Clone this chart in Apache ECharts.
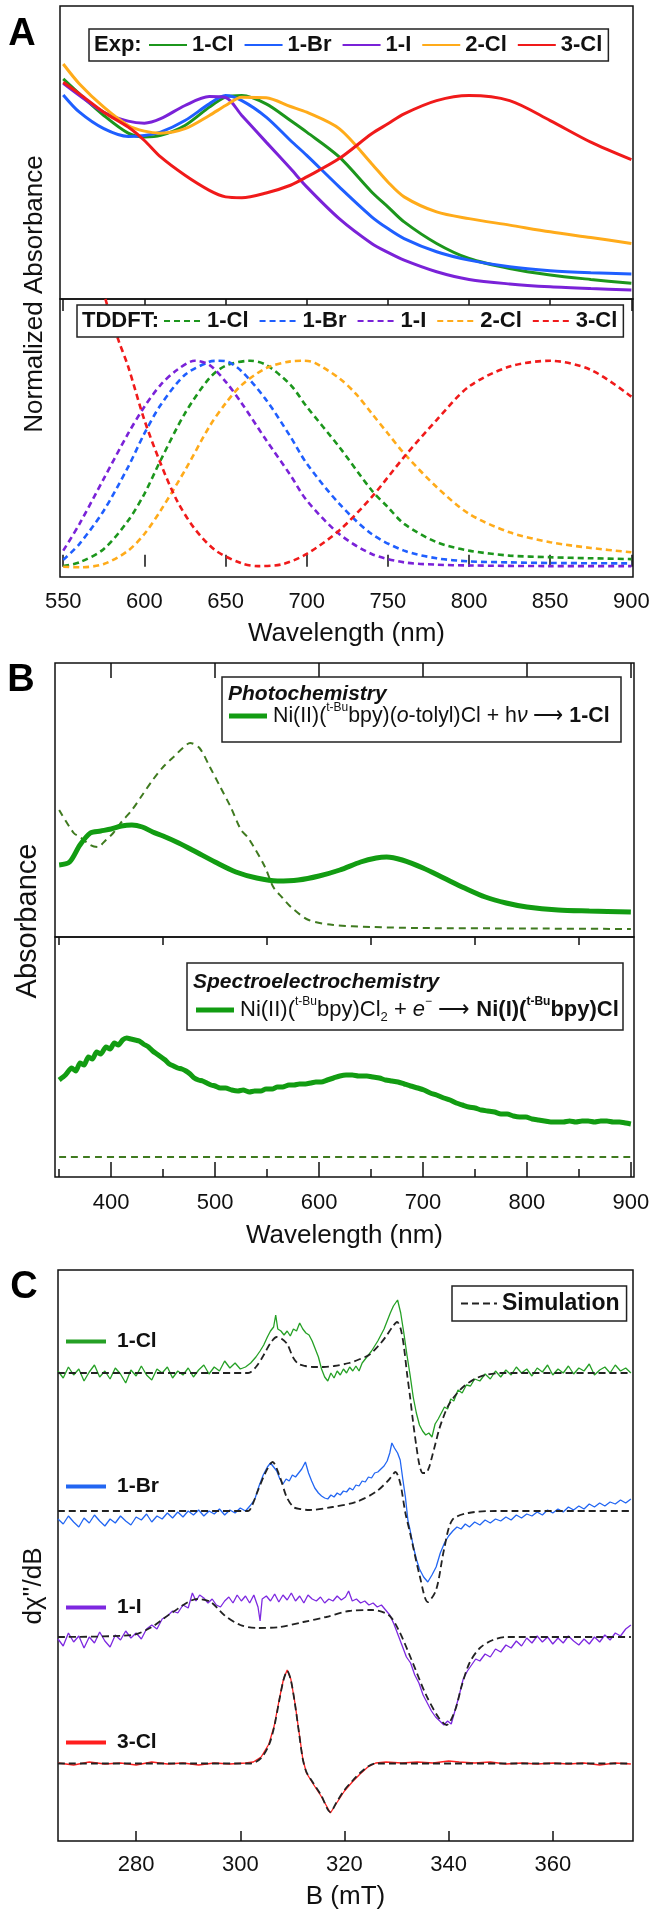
<!DOCTYPE html>
<html><head><meta charset="utf-8">
<script src="https://cdn.jsdelivr.net/npm/echarts@6/dist/echarts.min.js"></script>
<style>html,body{margin:0;padding:0;background:#fff}#c{width:658px;height:1920px}</style>
</head><body><div id="c"></div>
<script>
// ---------- Panel A : normalized absorbance ----------
const wlExp = [550,560,575,590,600,610,625,640,650,660,675,690,700,720,740,750,760,780,800,825,850,875,900];
const exp1Cl = [1.082,1.008,0.902,0.815,0.796,0.804,0.853,0.943,0.992,1.0,0.959,0.877,0.820,0.698,0.526,0.453,0.379,0.273,0.199,0.150,0.118,0.096,0.077];
const exp1Br = [1.003,0.918,0.837,0.799,0.804,0.820,0.877,0.959,1.0,0.975,0.894,0.779,0.706,0.551,0.404,0.346,0.297,0.232,0.191,0.158,0.139,0.129,0.123];
const exp1I  = [1.060,1.0,0.918,0.874,0.864,0.886,0.951,0.995,0.99,0.902,0.771,0.641,0.551,0.395,0.273,0.229,0.191,0.134,0.096,0.074,0.060,0.051,0.044];
const exp2Cl = [1.155,1.057,0.943,0.853,0.825,0.815,0.837,0.902,0.951,0.992,0.989,0.946,0.918,0.837,0.665,0.575,0.502,0.428,0.395,0.363,0.330,0.302,0.273];
const exp3Cl = [1.065,1.008,0.918,0.845,0.779,0.698,0.608,0.534,0.502,0.498,0.521,0.559,0.600,0.690,0.812,0.861,0.910,0.975,1.0,0.975,0.877,0.771,0.685];

const td1I_x  = [550,560,575,590,600,610,620,631,640,650,660,675,690,700,720,740,760,780,800,850,900];
const td1I_y  = [0.078,0.208,0.428,0.647,0.777,0.883,0.955,1.0,0.98,0.899,0.793,0.615,0.444,0.322,0.159,0.062,0.021,0.010,0.006,0.003,0.003];
const td1Br_x = [550,560,575,590,600,610,625,640,645,650,660,675,690,700,720,740,760,780,800,825,850,900];
const td1Br_y = [0.033,0.111,0.273,0.485,0.647,0.785,0.932,0.995,1.0,0.998,0.948,0.810,0.631,0.501,0.306,0.159,0.078,0.041,0.026,0.021,0.018,0.016];
const td1Cl_x = [550,560,575,590,600,610,625,640,650,665,675,690,700,720,740,750,760,780,800,825,850,875,900];
const td1Cl_y = [0.003,0.021,0.086,0.224,0.354,0.517,0.745,0.915,0.976,1.0,0.98,0.883,0.777,0.582,0.371,0.289,0.208,0.119,0.078,0.054,0.046,0.041,0.037];
const td2Cl_x = [550,560,575,590,600,610,625,640,650,660,675,690,698,705,720,730,740,750,760,780,800,825,850,875,900];
const td2Cl_y = [0,-0.003,0.013,0.078,0.159,0.273,0.468,0.680,0.793,0.883,0.964,0.997,1.0,0.99,0.915,0.842,0.745,0.647,0.550,0.387,0.257,0.167,0.119,0.091,0.070];
const td3Cl_x = [550,565,576,584,590,600,610,620,631,644,660,670,685,700,720,740,760,780,800,825,850,875,900];
const td3Cl_y = [2.1,1.65,1.30,1.10,0.972,0.712,0.501,0.322,0.184,0.078,0.016,0.003,0.012,0.062,0.176,0.338,0.533,0.712,0.875,0.972,1.0,0.956,0.826];

const ticksA = [550,600,650,700,750,800,850,900];

// ---------- Panel B : absorbance (arb.) ----------
const photo_x = [350,360,370,380,390,400,410,420,430,440,450,465,480,500,520,540,560,580,600,620,640,655,665,680,700,720,740,760,780,800,830,860,900];
const photo_y = [0.72,0.75,0.92,1.04,1.06,1.08,1.11,1.12,1.10,1.05,1.01,0.94,0.86,0.75,0.65,0.59,0.56,0.57,0.61,0.67,0.75,0.79,0.80,0.77,0.69,0.59,0.49,0.40,0.34,0.30,0.27,0.26,0.25];
const photoPre_x = [350,364,370,380,387,395,402,410,420,430,440,450,460,470,476,485,495,505,515,525,532,548,556,565,573,590,614,650,696,800,900];
const photoPre_y = [1.27,1.04,1.00,0.92,0.90,0.97,1.04,1.15,1.27,1.42,1.57,1.70,1.80,1.90,1.94,1.89,1.70,1.50,1.30,1.07,0.99,0.70,0.50,0.39,0.30,0.17,0.12,0.10,0.09,0.085,0.08];
const spec_x = [350,356,362,366,370,374,378,382,386,390,395,399,403,407,411,415,419,423,427,431,436,440,444,448,452,456,460,464,468,472,476,480,484,488,492,496,500,505,510,516,522,527,533,538,544,549,555,560,565,571,576,581,587,592,597,602,608,614,620,626,632,638,646,652,658,664,670,676,682,688,695,701,707,713,720,726,732,738,744,750,756,762,769,775,781,787,793,799,805,811,817,823,829,835,841,847,853,859,865,871,877,883,889,895,900];
const spec_y = [0.97,1.02,1.09,1.06,1.14,1.12,1.20,1.18,1.25,1.23,1.30,1.28,1.34,1.32,1.37,1.39,1.38,1.37,1.36,1.33,1.30,1.26,1.23,1.20,1.17,1.13,1.11,1.09,1.08,1.06,1.03,0.99,0.97,0.96,0.94,0.92,0.91,0.89,0.89,0.87,0.86,0.87,0.85,0.86,0.86,0.88,0.88,0.90,0.90,0.92,0.92,0.93,0.93,0.94,0.95,0.95,0.97,0.99,1.01,1.02,1.02,1.01,1.01,1.00,0.99,0.97,0.96,0.95,0.93,0.91,0.89,0.87,0.84,0.82,0.79,0.77,0.74,0.72,0.70,0.69,0.67,0.66,0.65,0.63,0.63,0.61,0.60,0.60,0.58,0.57,0.56,0.55,0.55,0.55,0.56,0.55,0.56,0.56,0.55,0.56,0.56,0.55,0.55,0.54,0.53];
const specPre_x = [350,900];
const specPre_y = [0.20,0.20];
const ticksBmajor = [400,500,600,700,800,900];
const ticksBminor = [350,450,550,650,750,850];

// ---------- Panel C : EPR (arb.) ----------
const epr1Cl = [[265,4.70],[266,4.63],[267,4.74],[268,4.66],[269,4.72],[270,4.60],[271,4.69],[272,4.76],[273,4.64],[274,4.70],[275,4.62],[276,4.73],[277,4.67],[278,4.58],[279,4.71],[280,4.65],[281,4.75],[282,4.66],[283,4.61],[284,4.72],[285,4.68],[286,4.74],[287,4.63],[288,4.70],[289,4.66],[290,4.73],[291,4.64],[292,4.71],[293,4.76],[294,4.67],[295,4.74],[296,4.70],[297,4.80],[298,4.73],[299,4.78],[300,4.72],[301,4.74],[302,4.78],[303,4.84],[303.8,4.90],[304.5,4.96],[305.2,5.04],[305.8,5.10],[306.4,5.14],[306.8,5.26],[307.2,5.12],[307.8,5.10],[308.4,5.06],[309,5.10],[309.6,5.05],[310.2,5.12],[310.8,5.10],[311.4,5.18],[312,5.12],[312.6,5.08],[313.2,5.06],[313.8,5.00],[314.4,4.92],[315,4.84],[315.6,4.72],[316.2,4.64],[316.8,4.60],[317.4,4.68],[318,4.63],[318.6,4.70],[319.2,4.66],[319.8,4.72],[320.4,4.68],[321,4.74],[321.6,4.70],[322.2,4.75],[322.8,4.70],[323.4,4.78],[324,4.82],[324.6,4.86],[325.2,4.90],[325.8,4.95],[326.4,5.00],[327,5.06],[327.6,5.12],[328.2,5.20],[328.8,5.28],[329.4,5.35],[330.2,5.41],[330.8,5.28],[331.4,5.08],[332,4.86],[332.6,4.66],[333.2,4.44],[333.8,4.28],[334.4,4.16],[335,4.10],[335.6,4.06],[336.2,4.08],[336.8,4.04],[337.4,4.17],[338,4.22],[338.6,4.28],[339.2,4.34],[339.8,4.32],[340.4,4.42],[341,4.40],[341.8,4.51],[342.6,4.48],[343.4,4.56],[344.2,4.55],[345,4.62],[346,4.60],[347,4.67],[348,4.62],[349,4.70],[350,4.64],[351,4.71],[352,4.66],[353,4.74],[354,4.68],[355,4.72],[356,4.65],[357,4.73],[358,4.69],[359,4.76],[360,4.66],[361,4.72],[362,4.68],[363,4.75],[364,4.67],[365,4.73],[366,4.70],[367,4.77],[368,4.66],[369,4.71],[370,4.74],[371,4.68],[372,4.76],[373,4.70],[374,4.73],[375,4.68]];
const sim1Cl = [[265,4.68],[301.5,4.68],[303,4.74],[304.5,4.86],[305.8,4.98],[307,5.04],[308,5.02],[309,4.97],[310.2,4.83],[311.2,4.77],[312.5,4.75],[314,4.74],[316,4.74],[318,4.75],[320.9,4.78],[323,4.82],[324.7,4.86],[326.5,4.95],[327.9,5.04],[329.2,5.14],[330.1,5.19],[330.8,5.12],[331.4,4.95],[332,4.68],[332.6,4.44],[333.2,4.18],[333.8,3.95],[334.4,3.76],[335,3.68],[335.6,3.68],[336.2,3.73],[336.8,3.84],[337.5,3.98],[338.2,4.12],[339,4.24],[340,4.36],[341.5,4.47],[343,4.55],[345,4.62],[347,4.66],[350,4.68],[375,4.68]];
const epr1Br = [[265,3.22],[266,3.17],[267,3.25],[268,3.19],[269,3.14],[270,3.23],[271,3.18],[272,3.26],[273,3.20],[274,3.15],[275,3.22],[276,3.18],[277,3.25],[278,3.20],[279,3.16],[280,3.24],[281,3.21],[282,3.27],[283,3.19],[284,3.25],[285,3.22],[286,3.28],[287,3.23],[288,3.29],[289,3.24],[290,3.30],[291,3.26],[292,3.31],[293,3.25],[294,3.30],[295,3.27],[296,3.32],[297,3.26],[298,3.31],[299,3.28],[300,3.33],[301,3.30],[302,3.36],[302.8,3.42],[303.6,3.55],[304.4,3.66],[305.2,3.74],[305.8,3.78],[306.4,3.74],[307,3.70],[307.6,3.62],[308.2,3.57],[308.8,3.62],[309.4,3.60],[310,3.66],[310.6,3.64],[311.2,3.68],[311.8,3.72],[312.5,3.79],[313.1,3.68],[313.7,3.60],[314.3,3.53],[315,3.48],[315.6,3.45],[316.2,3.43],[316.8,3.42],[317.4,3.46],[318,3.44],[318.6,3.48],[319.2,3.46],[319.8,3.50],[320.4,3.49],[321,3.53],[321.6,3.51],[322.2,3.56],[322.8,3.55],[323.4,3.60],[324,3.59],[324.6,3.64],[325.2,3.63],[325.8,3.68],[326.4,3.69],[327,3.72],[327.6,3.75],[328.2,3.80],[328.7,3.88],[329.1,3.98],[329.6,3.93],[330.2,3.88],[330.7,3.81],[331.2,3.62],[331.7,3.44],[332.2,3.20],[332.6,3.11],[333.2,2.95],[333.8,2.82],[334.4,2.72],[335.2,2.64],[336,2.59],[336.8,2.66],[337.6,2.74],[338.4,2.88],[339.2,2.98],[340,3.05],[340.8,3.10],[341.6,3.14],[342.4,3.12],[343.2,3.17],[344,3.14],[345,3.19],[346,3.16],[347,3.21],[348,3.18],[349,3.22],[350,3.20],[351,3.24],[352,3.21],[353,3.26],[354,3.23],[355,3.27],[356,3.25],[357,3.29],[358,3.26],[359,3.31],[360,3.28],[361,3.32],[362,3.29],[363,3.34],[364,3.31],[365,3.35],[366,3.32],[367,3.37],[368,3.34],[369,3.38],[370,3.35],[371,3.39],[372,3.37],[373,3.41],[374,3.38],[375,3.42]];
const sim1Br = [[265,3.30],[301.5,3.30],[302.3,3.36],[303.2,3.48],[304.8,3.68],[306.2,3.79],[307.6,3.64],[308.9,3.44],[310.2,3.34],[311.5,3.32],[313.3,3.31],[317.7,3.34],[322.2,3.39],[326,3.49],[328.5,3.61],[329.8,3.69],[330.7,3.58],[331.7,3.28],[332.6,3.08],[334.5,2.64],[336,2.39],[337.6,2.51],[339.1,2.91],[340.7,3.21],[343.8,3.28],[349,3.30],[375,3.30]];
const epr1I = [[265,2.02],[266,1.95],[267,2.08],[268,1.99],[269,2.05],[270,1.93],[271,2.04],[272,1.98],[273,2.09],[274,2.00],[275,1.94],[276,2.06],[277,2.01],[278,2.10],[279,2.03],[280,2.08],[281,2.02],[282,2.12],[283,2.16],[284,2.12],[285,2.22],[286,2.25],[287,2.30],[288,2.28],[289,2.36],[290,2.33],[290.8,2.48],[291.5,2.40],[292.2,2.46],[293,2.43],[293.8,2.38],[294.6,2.42],[295.4,2.36],[296.2,2.34],[297,2.40],[297.8,2.44],[298.6,2.38],[299.4,2.46],[300.2,2.40],[301,2.45],[301.8,2.38],[302.6,2.46],[303.4,2.34],[303.8,2.20],[304.2,2.42],[305,2.45],[305.8,2.40],[306.6,2.47],[307.4,2.39],[308.2,2.46],[309,2.41],[309.8,2.48],[310.6,2.40],[311.4,2.45],[312.2,2.38],[313,2.46],[313.8,2.42],[314.6,2.40],[315.4,2.44],[316.2,2.38],[317,2.42],[317.8,2.40],[318.6,2.45],[319.4,2.41],[320.2,2.44],[320.8,2.50],[321.5,2.40],[322.3,2.42],[323.1,2.38],[323.9,2.40],[324.7,2.36],[325.5,2.38],[326.3,2.34],[327.1,2.36],[327.9,2.31],[328.7,2.26],[329.5,2.17],[330.3,2.06],[331.1,1.95],[331.9,1.84],[332.7,1.78],[333.5,1.66],[334.3,1.58],[335.1,1.46],[335.9,1.38],[336.7,1.30],[337.5,1.24],[338.3,1.20],[339.1,1.16],[339.8,1.20],[340.5,1.17],[341.2,1.30],[342,1.45],[342.8,1.62],[343.6,1.70],[344.4,1.76],[345.2,1.82],[346,1.80],[347,1.87],[348,1.84],[349,1.92],[350,1.89],[351,1.96],[352,1.93],[353,2.00],[354,1.95],[355,2.03],[356,1.98],[357,2.05],[358,1.99],[359,2.04],[360,1.97],[361,2.03],[362,1.98],[363,2.05],[364,2.00],[365,1.96],[366,2.02],[367,1.97],[368,2.04],[369,1.99],[370,2.06],[371,2.01],[372,2.08],[373,2.05],[374,2.12],[375,2.16]];
const sim1I = [[265,2.04],[279.2,2.06],[283,2.14],[286.8,2.28],[291.8,2.42],[294.3,2.39],[296.9,2.26],[300,2.16],[303.2,2.13],[307.6,2.14],[312.1,2.19],[316.5,2.24],[320.9,2.30],[325.3,2.31],[328.5,2.26],[330.4,2.11],[332.9,1.81],[335.5,1.48],[338,1.24],[339.6,1.16],[341.2,1.30],[342.5,1.55],[344,1.78],[346,1.93],[348.5,2.01],[351,2.04],[375,2.04]];
const epr3Cl = [[265,0.78],[268,0.76],[271,0.79],[274,0.77],[277,0.78],[280,0.76],[283,0.79],[286,0.77],[289,0.78],[292,0.76],[295,0.78],[298,0.77],[301,0.78],[302.5,0.79],[304,0.84],[305.5,0.97],[306.5,1.15],[307.5,1.42],[308.3,1.62],[309,1.71],[309.7,1.62],[310.5,1.38],[311.3,1.08],[312,0.82],[312.7,0.68],[314,0.57],[315.5,0.45],[317.3,0.28],[318.5,0.38],[320,0.50],[321.5,0.59],[323,0.67],[324.5,0.74],[326,0.78],[328,0.79],[331,0.78],[334,0.79],[337,0.78],[340,0.80],[342,0.79],[345,0.78],[348,0.79],[351,0.77],[354,0.78],[357,0.77],[360,0.78],[363,0.77],[366,0.78],[369,0.76],[372,0.78],[375,0.77]];
const sim3Cl = [[265,0.775],[302,0.775],[304,0.83],[305.5,0.96],[306.5,1.14],[307.5,1.41],[308.3,1.61],[309,1.70],[309.7,1.61],[310.5,1.37],[311.3,1.07],[312,0.82],[312.7,0.69],[314,0.58],[315.5,0.46],[317.3,0.29],[318.5,0.39],[320,0.51],[321.5,0.60],[323,0.68],[324.5,0.745],[326,0.775],[375,0.775]];
const starPts = [[311.0,5.36],[312.0,3.96],[305.2,2.59]];
const ticksC = [280,300,320,340,360];

// ---------- build ----------
const F = "'Liberation Sans', Arial, sans-serif";
const INK = '#111';
const col = {g:'#1c961c', b:'#1f5fff', p:'#7a22d8', o:'#ffab1a', r:'#f01a1a'};
const pairs = (xs, ys) => xs.map((x, i) => [x, ys[i]]);

function line(name, data, xi, yi, color, width, dash, smooth) {
  return {type:'line', name, data, xAxisIndex:xi, yAxisIndex:yi, symbol:'none', clip:true,
    smooth: smooth === undefined ? 0.3 : smooth, silent:true,
    lineStyle:{color, width, type: dash || 'solid'}, itemStyle:{color}};
}

const series = [
  line('1-Cl', pairs(wlExp, exp1Cl), 0, 0, col.g, 3),
  line('1-Br', pairs(wlExp, exp1Br), 0, 0, col.b, 3),
  line('1-I',  pairs(wlExp, exp1I),  0, 0, col.p, 3),
  line('2-Cl', pairs(wlExp, exp2Cl), 0, 0, col.o, 3),
  line('3-Cl', pairs(wlExp, exp3Cl), 0, 0, col.r, 3),
  line('TD 1-Cl', pairs(td1Cl_x, td1Cl_y), 1, 1, col.g, 2.6, [6,4]),
  line('TD 1-Br', pairs(td1Br_x, td1Br_y), 1, 1, col.b, 2.6, [6,4]),
  line('TD 1-I',  pairs(td1I_x,  td1I_y),  1, 1, col.p, 2.6, [6,4]),
  line('TD 2-Cl', pairs(td2Cl_x, td2Cl_y), 1, 1, col.o, 2.6, [6,4]),
  line('TD 3-Cl', pairs(td3Cl_x, td3Cl_y), 1, 1, col.r, 2.6, [6,4]),
  line('precursor', pairs(photoPre_x, photoPre_y), 2, 2, '#3f7a1f', 2, [7,5]),
  line('Photochemistry', pairs(photo_x, photo_y), 2, 2, '#129c12', 5),
  line('precursor2', pairs(specPre_x, specPre_y), 4, 3, '#3f7a1f', 2, [7,5]),
  line('Spectroelectrochemistry', pairs(spec_x, spec_y), 4, 3, '#129c12', 5, null, 0.2),
  line('EPR 1-Cl', epr1Cl, 6, 4, '#25a025', 1.3, null, false),
  line('EPR 1-Br', epr1Br, 6, 4, '#2266f2', 1.3, null, false),
  line('EPR 1-I',  epr1I,  6, 4, '#7d28e0', 1.3, null, false),
  line('EPR 3-Cl', epr3Cl, 6, 4, '#ff1e1e', 1.3, null, false),
  line('Simulation', sim1Cl, 6, 4, '#222', 1.8, [7,4], 0.3),
  line('Simulation', sim1Br, 6, 4, '#222', 1.8, [7,4], 0.3),
  line('Simulation', sim1I,  6, 4, '#222', 1.8, [7,4], 0.3),
  line('Simulation', sim3Cl, 6, 4, '#222', 1.8, [7,4], 0.3),
  {type:'scatter', name:'star', xAxisIndex:6, yAxisIndex:4, data:starPts, symbolSize:1,
   itemStyle:{opacity:0}, silent:true,
   label:{show:true, position:'inside', formatter:'*', fontSize:28, fontWeight:'bold', fontFamily:F, color:INK, offset:[0,6]}}
];

const tickStyle = {color:INK, width:1.5};
const frame = {show:true, borderColor:INK, borderWidth:1.5, backgroundColor:'transparent'};
const grid = [
  Object.assign({left:60, right:25, top:6,    height:293}, frame),
  Object.assign({left:60, right:25, top:299,  height:278}, frame),
  Object.assign({left:55, right:24, top:663,  height:274}, frame),
  Object.assign({left:55, right:24, top:937,  height:240}, frame),
  Object.assign({left:58, right:25, top:1270, height:571}, frame)
];
const lbl = {color:INK, fontSize:22, fontFamily:F};
const nameStyle = {color:INK, fontSize:26, fontFamily:F};
const noSplit = {show:false};
const xAxis = [
  {type:'value', gridIndex:0, position:'top', min:548, max:901, axisLine:{show:false},
   axisTick:{inside:true, length:12, lineStyle:tickStyle, customValues:ticksA}, axisLabel:{show:false}, splitLine:noSplit},
  {type:'value', gridIndex:1, position:'bottom', min:548, max:901, axisLine:{show:false},
   axisTick:{inside:true, length:12, lineStyle:tickStyle, customValues:ticksA},
   axisLabel:Object.assign({margin:14, customValues:ticksA}, lbl), splitLine:noSplit,
   name:'Wavelength (nm)', nameLocation:'middle', nameGap:44, nameTextStyle:nameStyle},
  {type:'value', gridIndex:2, position:'top', min:346, max:903, axisLine:{show:false},
   axisTick:{inside:true, length:8, lineStyle:tickStyle, customValues:ticksBminor}, axisLabel:{show:false}, splitLine:noSplit},
  {type:'value', gridIndex:2, position:'top', min:346, max:903, axisLine:{show:false},
   axisTick:{inside:true, length:15, lineStyle:tickStyle, customValues:ticksBmajor},
   axisLabel:{show:false}, splitLine:noSplit},
  {type:'value', gridIndex:3, position:'bottom', min:346, max:903, axisLine:{show:false},
   axisTick:{inside:true, length:8, lineStyle:tickStyle, customValues:ticksBminor},
   axisLabel:Object.assign({margin:15, customValues:ticksBmajor}, lbl), splitLine:noSplit,
   name:'Wavelength (nm)', nameLocation:'middle', nameGap:46, nameTextStyle:nameStyle},
  {type:'value', gridIndex:3, position:'bottom', min:346, max:903, axisLine:{show:false},
   axisTick:{inside:true, length:15, lineStyle:tickStyle, customValues:ticksBmajor},
   axisLabel:{show:false}, splitLine:noSplit},
  {type:'value', gridIndex:4, position:'bottom', min:265, max:375.4, axisLine:{show:false},
   axisTick:{inside:true, length:10, lineStyle:tickStyle, customValues:ticksC},
   axisLabel:Object.assign({margin:13, customValues:ticksC}, lbl), splitLine:noSplit,
   name:'B (mT)', nameLocation:'middle', nameGap:43, nameTextStyle:nameStyle}
];
const yHidden = (gi, min, max) => ({type:'value', gridIndex:gi, min, max, show:false, splitLine:noSplit});
const yAxis = [yHidden(0,0,1.44), yHidden(1,-0.05,1.30), yHidden(2,0,2.74), yHidden(3,0,2.40), yHidden(4,0,5.71)];

const legFmt = n => n.replace(/^(TD|EPR) /, '');
const legText = {color:INK, fontSize:22, fontWeight:'bold', fontFamily:F};
const hideSym = {color:'rgba(0,0,0,0)', borderWidth:0, opacity:0};
const legend = [
  {left:89, top:29, orient:'horizontal', padding:[5,6,5,59], itemWidth:38, itemHeight:14, itemGap:10,
   borderColor:'#222', borderWidth:1.5, backgroundColor:'#fff', selectedMode:false, formatter:legFmt,
   itemStyle:hideSym, textStyle:legText, data:['1-Cl','1-Br','1-I','2-Cl','3-Cl']},
  {left:77, top:305, orient:'horizontal', padding:[5,6,5,86], itemWidth:38, itemHeight:14, itemGap:10,
   borderColor:'#222', borderWidth:1.5, backgroundColor:'#fff', selectedMode:false, formatter:legFmt,
   itemStyle:hideSym, textStyle:legText, data:['TD 1-Cl','TD 1-Br','TD 1-I','TD 2-Cl','TD 3-Cl']},
  {left:452, top:1286, padding:[6,7,6,8], itemWidth:36, itemHeight:14, borderColor:'#222', borderWidth:1.5,
   backgroundColor:'#fff', selectedMode:false, itemStyle:hideSym, textStyle:Object.assign({}, legText, {fontSize:23}),
   lineStyle:{width:2}, data:['Simulation']}
];
[['EPR 1-Cl',1342],['EPR 1-Br',1487],['EPR 1-I',1608],['EPR 3-Cl',1743]].forEach(([n, yc]) => {
  legend.push({left:64, top:yc-11, padding:0, itemWidth:40, itemHeight:14, selectedMode:false,
    formatter:legFmt, lineStyle:{width:4}, itemStyle:hideSym,
    textStyle:Object.assign({padding:[0,0,0,6]}, legText, {fontSize:21}), data:[n]});
});

const T = (x, y, text, size, extra) => Object.assign({type:'text', x, y, z:100,
  style:{text, fontSize:size, fontFamily:F, fill:INK, align:'center', verticalAlign:'middle'}}, extra || {});
const big = (x, y, t) => ({type:'text', x, y, z:100, style:{text:t, fontSize:38, fontWeight:'bold', fontFamily:F, fill:'#000', align:'center', verticalAlign:'middle'}});
const mkRich = fs => ({
  n:{fontSize:fs, fontFamily:F, fill:INK, lineHeight:28},
  i:{fontSize:fs, fontFamily:F, fill:INK, lineHeight:28, fontStyle:'italic'},
  b:{fontSize:fs, fontFamily:F, fill:INK, lineHeight:28, fontWeight:'bold'},
  s:{fontSize:12, fontFamily:F, fill:INK, lineHeight:12, verticalAlign:'top'},
  sb:{fontSize:12, fontFamily:F, fill:INK, lineHeight:12, verticalAlign:'top', fontWeight:'bold'},
  u:{fontSize:13, fontFamily:F, fill:INK, lineHeight:13, verticalAlign:'bottom'}
});
const graphic = [
  big(22, 35, 'A'), big(21, 681, 'B'), big(24, 1288, 'C'),
  T(35, 294, 'Normalized Absorbance', 26, {rotation:Math.PI/2}),
  T(28, 921, 'Absorbance', 29, {rotation:Math.PI/2}),
  T(34, 1586, "dχ''/dB", 26, {rotation:Math.PI/2}),
  {type:'text', x:94, y:45, z:100, style:{text:'Exp:', fontSize:22, fontWeight:'bold', fontFamily:F, fill:INK, align:'left', verticalAlign:'middle'}},
  {type:'text', x:82, y:321, z:100, style:{text:'TDDFT:', fontSize:22, fontWeight:'bold', fontFamily:F, fill:INK, align:'left', verticalAlign:'middle'}},
  // Photochemistry box
  {type:'rect', z:90, shape:{x:222, y:677, width:399, height:65}, style:{fill:'#fff', stroke:'#222', lineWidth:1.5}},
  {type:'text', x:228, y:694, z:100, style:{text:'Photochemistry', fontSize:21, fontWeight:'bold', fontStyle:'italic', fontFamily:F, fill:INK, align:'left', verticalAlign:'middle'}},
  {type:'line', z:100, shape:{x1:229, y1:716, x2:267, y2:716}, style:{stroke:'#129c12', lineWidth:5}},
  {type:'text', x:273, y:716, z:100, style:{text:'{n|Ni(II)(}{s|t-Bu}{n|bpy)(}{i|o}{n|-tolyl)Cl + h}{i|ν}{n| ⟶ }{b|1-Cl}', rich:mkRich(21.3), align:'left', verticalAlign:'middle'}},
  // Spectroelectrochemistry box
  {type:'rect', z:90, shape:{x:187, y:963, width:436, height:67}, style:{fill:'#fff', stroke:'#222', lineWidth:1.5}},
  {type:'text', x:193, y:982, z:100, style:{text:'Spectroelectrochemistry', fontSize:21, fontWeight:'bold', fontStyle:'italic', fontFamily:F, fill:INK, align:'left', verticalAlign:'middle'}},
  {type:'line', z:100, shape:{x1:196, y1:1010, x2:234, y2:1010}, style:{stroke:'#129c12', lineWidth:5}},
  {type:'text', x:240, y:1010, z:100, style:{text:'{n|Ni(II)(}{s|t-Bu}{n|bpy)Cl}{u|2}{n| + }{i|e}{s|−}{n| ⟶ }{b|Ni(I)(}{sb|t-Bu}{b|bpy)Cl}', rich:mkRich(22), align:'left', verticalAlign:'middle'}}
];

const chart = echarts.init(document.getElementById('c'), null, {renderer:'canvas'});
chart.setOption({animation:false, backgroundColor:'#fff', grid, xAxis, yAxis, legend, series, graphic});
</script></body></html>
